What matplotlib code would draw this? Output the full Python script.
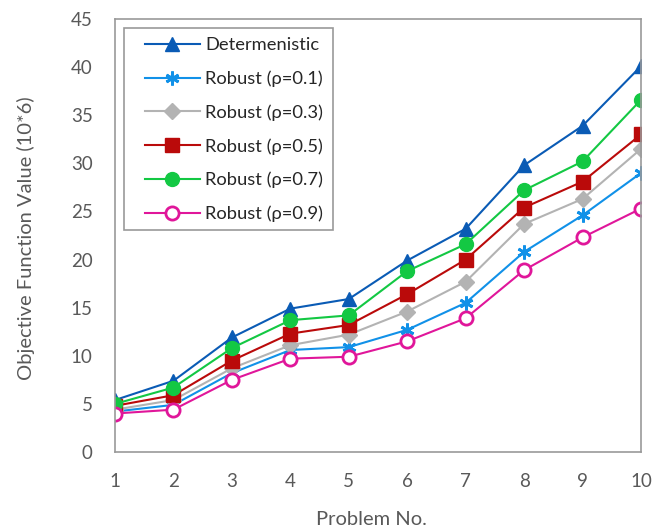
import matplotlib.pyplot as plt
from matplotlib.patches import Rectangle

plt.rcParams['font.family'] = ['Lato', 'DejaVu Sans']

problems = [1, 2, 3, 4, 5, 6, 7, 8, 9, 10]

determ = [5.4, 7.4, 11.9, 14.9, 15.9, 19.9, 23.2, 29.8, 33.9, 40.1]
rob_01 = [4.2, 4.9, 8.2, 10.6, 10.9, 12.7, 15.5, 20.8, 24.6, 29.0]
rob_03 = [4.4, 5.4, 8.7, 11.1, 12.2, 14.6, 17.7, 23.7, 26.3, 31.5]
rob_05 = [4.8, 5.9, 9.5, 12.3, 13.2, 16.4, 20.0, 25.4, 28.1, 33.0]
rob_07 = [5.0, 6.7, 10.8, 13.7, 14.2, 18.8, 21.6, 27.2, 30.2, 36.6]
rob_09 = [4.0, 4.4, 7.5, 9.7, 9.9, 11.5, 13.9, 18.9, 22.3, 25.3]

grey = '#595959'

fig = plt.figure(figsize=(6.62, 5.28), dpi=100)
ax = fig.add_axes([115/662, 1 - 452/528, 526/662, 433/528])

ax.plot(problems, determ, color='#0A5BB5', lw=1.5, marker='^', ms=10,
        label='Determenistic')
ax.plot(problems, rob_01, color='#1191E8', lw=1.5, marker=(6, 2, 0), ms=10, mew=2,
        label='Robust (\u03c1=0.1)')
ax.plot(problems, rob_03, color='#B3B3B3', lw=1.5, marker='D', ms=8,
        label='Robust (\u03c1=0.3)')
ax.plot(problems, rob_05, color='#BA0A0A', lw=1.5, marker='s', ms=9.5,
        label='Robust (\u03c1=0.5)')
ax.plot(problems, rob_07, color='#13C843', lw=1.5, marker='o', ms=10,
        label='Robust (\u03c1=0.7)')
ax.plot(problems, rob_09, color='#E0169A', lw=1.5, marker='o', ms=9.5,
        mfc='white', mew=2, label='Robust (\u03c1=0.9)')

ax.set_xlim(1, 10)
ax.set_ylim(0, 45)
ax.set_xticks(problems)
ax.set_yticks(range(0, 46, 5))
ax.tick_params(length=0, labelsize=13.5, labelcolor=grey)
ax.tick_params(axis='x', pad=15)
ax.tick_params(axis='y', pad=16)
for s in ax.spines.values():
    s.set_color('#999999')
    s.set_linewidth(1.2)

ax.set_xlabel('Problem No.', fontsize=14.5, color=grey)
ax.set_ylabel('Objective Function Value (10*6)', fontsize=14.5, color=grey)
ax.xaxis.set_label_coords(0.488, -0.136)
ax.yaxis.set_label_coords(-0.152, 0.494)

# legend box drawn separately so the side padding can be wider than top/bottom
ax.add_patch(Rectangle((0.0171, 0.5127), 0.397, 0.4665, transform=ax.transAxes,
                       fill=True, facecolor='white', edgecolor='#999999',
                       lw=1.2, zorder=4))
leg = ax.legend(loc='upper left', bbox_to_anchor=(0.057, 0.958), fontsize=13.2,
                frameon=False, handlelength=3.0, labelspacing=0.94,
                borderpad=0, borderaxespad=0, handletextpad=0.3)
leg.set_zorder(5)
for t in leg.get_texts():
    t.set_color('#262626')

fig.savefig('out.png', dpi=100)
